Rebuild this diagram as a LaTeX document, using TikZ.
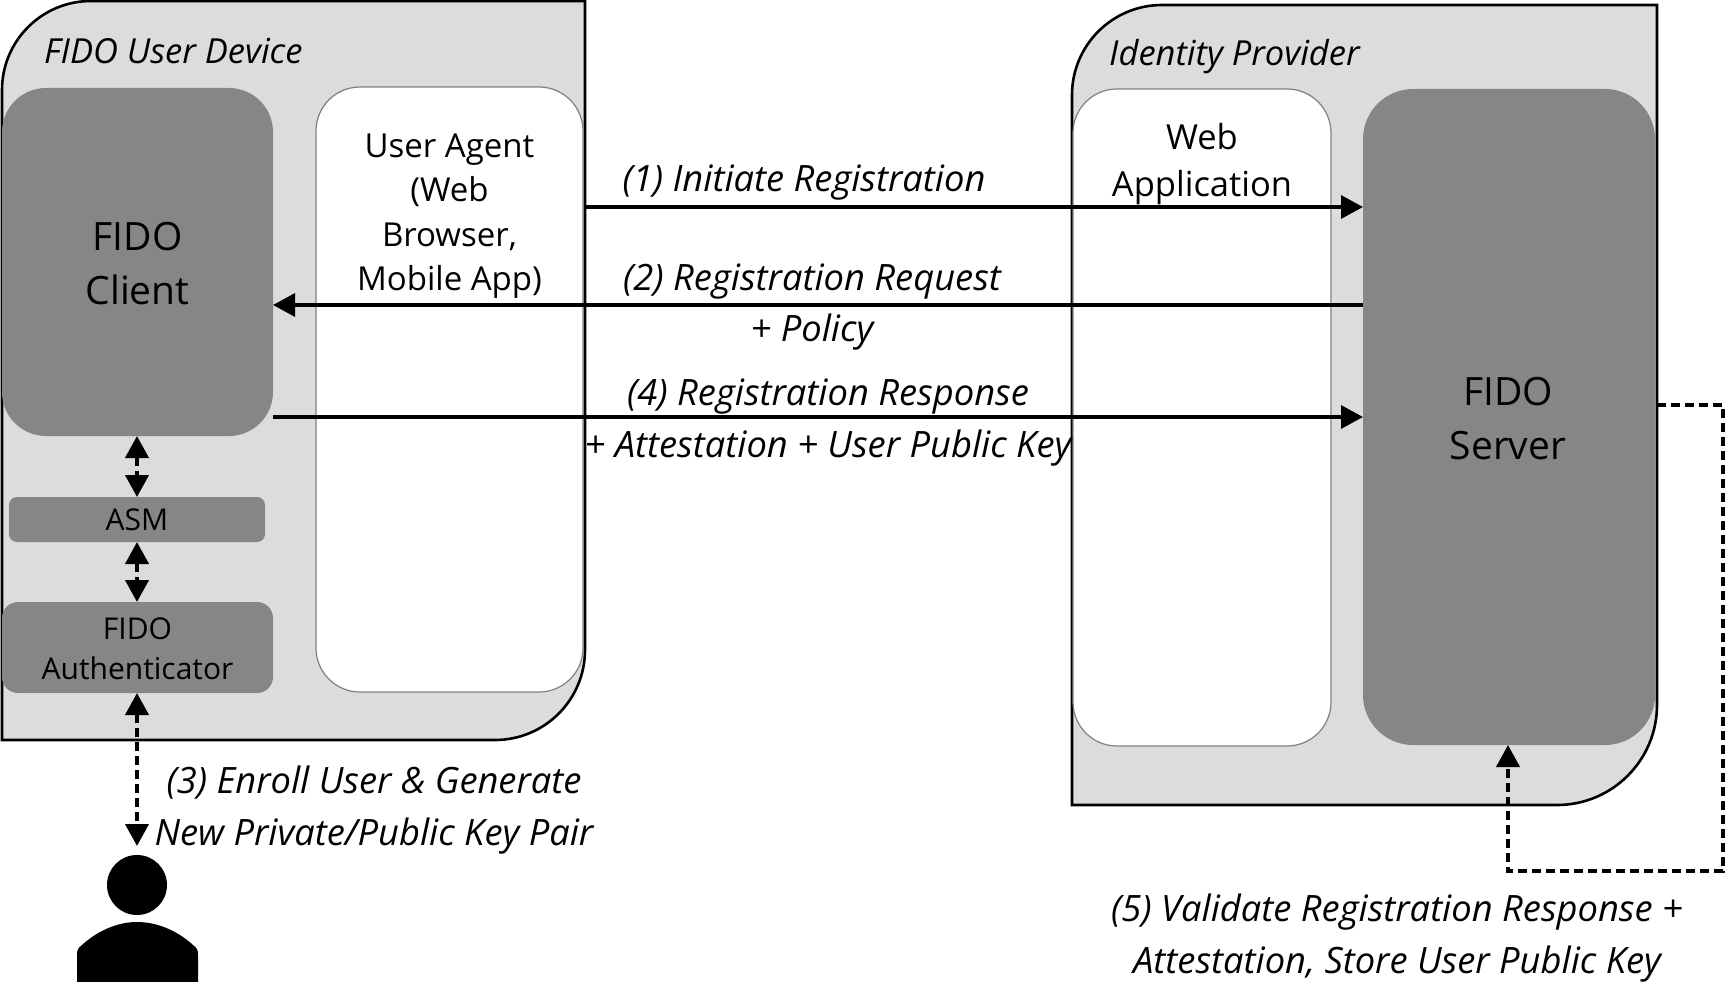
\documentclass[tikz,border=0pt]{standalone}
\usepackage{fontspec}
\setmainfont{Open Sans}
\usetikzlibrary{arrows.meta}
\definecolor{panelgray}{HTML}{DCDCDC}
\definecolor{boxgray}{HTML}{868686}
\newcommand{\fsz}[1]{\fontsize{#1pt}{#1pt}\selectfont}
\tikzset{
  panel/.style={draw=black,line width=2.6pt,fill=panelgray},
  darkbox/.style={draw=none,fill=boxgray,inner sep=0pt,outer sep=0pt},
  whitebox/.style={draw=gray,line width=1.2pt,fill=white,inner sep=0pt,outer sep=0pt},
  bigtxt/.style={font=\fsz{39},align=center,inner sep=0pt,text height=28pt,text depth=8pt},
  midtxt/.style={align=center,inner sep=0pt},
  smalltxt/.style={font=\fsz{30},align=center,inner sep=0pt},
  lbl/.style={font=\fsz{36.3}\itshape,inner sep=0pt,anchor=base},
  title/.style={font=\fsz{34.5}\itshape,inner sep=0pt,anchor=base west},
  solidarrow/.style={line width=3.2pt,-{Triangle[length=22pt,width=23pt]}},
  dashedarrow/.style={line width=4pt,dash pattern=on 9pt off 5pt},
  dbl/.style={dashedarrow,{Triangle[length=22pt,width=23pt]}-{Triangle[length=22pt,width=23pt]}},
  sgl/.style={dashedarrow,-{Triangle[length=22pt,width=23pt]}}
}
\begin{document}
\begin{tikzpicture}[x=1pt,y=-1pt]
\useasboundingbox (0,0) rectangle (1725,982);
\fill[white] (0,0) rectangle (1725,982);
% panels
\draw[panel] (2,740) -- (2,90) arc[start angle=180,end angle=90,radius=89pt] -- (585,1) -- (585,650)
  arc[start angle=0,end angle=-90,radius=90pt] -- cycle;
\draw[panel] (1072,805) -- (1072,95) arc[start angle=180,end angle=90,radius=90pt] -- (1657,5) -- (1657,705)
  arc[start angle=0,end angle=-90,radius=100pt] -- cycle;
% boxes
\node[darkbox,rounded corners=44pt,minimum width=271pt,minimum height=348pt] (client) at (137.5,262) {};
\node[whitebox,rounded corners=44pt,minimum width=267pt,minimum height=605pt] (ua) at (449.5,389.5) {};
\node[darkbox,rounded corners=8pt,minimum width=256pt,minimum height=45pt] (asm) at (137,519.5) {};
\node[darkbox,rounded corners=16pt,minimum width=271pt,minimum height=91pt] (auth) at (137.5,647.5) {};
\node[whitebox,rounded corners=44pt,minimum width=258pt,minimum height=657pt] (web) at (1202,417.5) {};
\node[darkbox,rounded corners=50pt,minimum width=292pt,minimum height=656pt] (server) at (1509,417) {};
% box texts
\node[bigtxt] (clientA) at (137.5,240) {FIDO};
\node[bigtxt] (clientB) at (137.5,294) {Client};
\node[midtxt,font=\fsz{33}] (uaT) at (449.5,216) {User Agent\\[11.5pt](Web\\[11.5pt]Browser,\\[11.5pt]Mobile App)};
\node[smalltxt] (asmT) at (137,520) {ASM};
\node[smalltxt] (authT) at (137.5,648.5) {FIDO\\[10pt]Authenticator};
\node[midtxt,font=\fsz{34.5}] (webT) at (1202,164) {Web\\[12pt]Application};
\node[bigtxt] (serverA) at (1508,395) {FIDO};
\node[bigtxt] (serverB) at (1508,449) {Server};
% titles
\node[title] (t1) at (44,64) {FIDO User Device};
\node[title] (t2) at (1109,66) {Identity Provider};
% person
\node[circle,fill=black,minimum size=60pt,inner sep=0pt] (head) at (137,885) {};
\fill[black] (77,982) -- (77,955) .. controls (77,950) and (78,948) .. (82,945) .. controls (95,933) and (115,922) .. (137,922) .. controls (160,922) and (180,933) .. (193,945) .. controls (197,948) and (198,950) .. (198,955) -- (198,982) -- cycle;
\coordinate (footTop) at (137,846);
\coordinate (y1) at (0,207);
\coordinate (y2) at (0,305);
\coordinate (y4) at (0,417);
\coordinate (loopA) at (1723,405);
\coordinate (loopB) at (1723,871);
\coordinate (loopC) at (1508,871);
% connectors
\draw[solidarrow] ([xshift=2pt]ua.east |- y1) -- (server.west |- y1);
\draw[solidarrow] (server.west |- y2) -- (client.east |- y2);
\draw[solidarrow] (client.east |- y4) -- (server.west |- y4);
\draw[dbl] (client.south -| asm.north) -- (asm.north);
\draw[dbl] (asm.south) -- (auth.north -| asm.south);
\draw[dbl] (auth.south -| footTop) -- (footTop);
\draw[sgl] (server.east |- loopA) ++(2,0) -- (loopA) -- (loopB) -- (loopC) -- (server.south -| loopC);
% labels
\node[lbl] (l1) at (804,191.5) {(1) Initiate Registration};
\node[lbl] (l2) at (812,290.5) {(2) Registration Request};
\node[lbl] (l2b) at (812,341.5) {+ Policy};
\node[lbl] (l4) at (828,405.5) {(4) Registration Response};
\node[lbl] (l4b) at (828,457.5) {+ Attestation + User Public Key};
\node[lbl] (l3) at (374,793.5) {(3) Enroll User \& Generate};
\node[lbl] (l3b) at (374,845.5) {New Private/Public Key Pair};
\node[lbl] (l5) at (1397,921.5) {(5) Validate Registration Response +};
\node[lbl] (l5b) at (1397,973) {Attestation, Store User Public Key};
\end{tikzpicture}
\end{document}
